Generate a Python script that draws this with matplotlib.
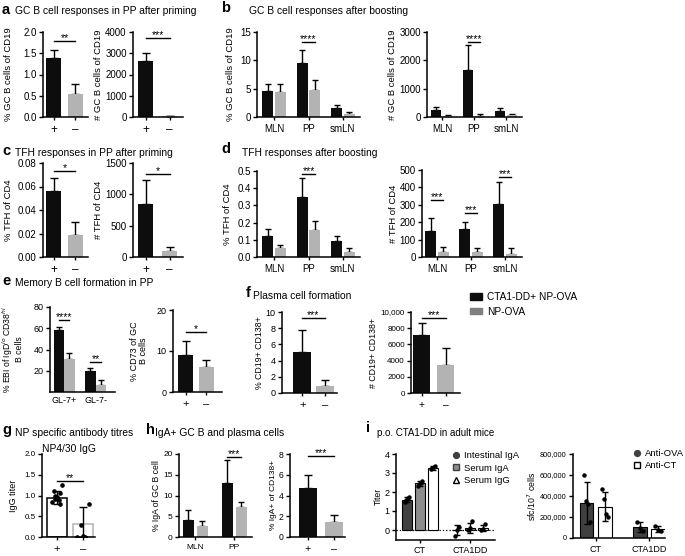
import matplotlib
matplotlib.use('Agg')
import matplotlib.pyplot as plt
from matplotlib.lines import Line2D
from matplotlib.patches import Patch
from matplotlib.ticker import FormatStrFormatter, FuncFormatter
import numpy as np

plt.rcParams['font.family'] = ['Liberation Sans', 'DejaVu Sans']

W, H = 685, 556
BLACK = '#0d0d0d'
GRAY = '#b3b3b3'
DARK = '#404040'
MID = '#8c8c8c'

# ---- data ----
pm = ['+', '–']
sites = ['MLN', 'PP', 'smLN']

a_pct = [1.38, 0.53]
a_pct_err = [0.20, 0.25]
a_num = [2650, 40]
a_num_err = [380, 30]

b_pct_dd = [4.6, 9.6, 1.6]
b_pct_dd_err = [1.2, 2.3, 0.6]
b_pct_np = [4.5, 4.8, 0.6]
b_pct_np_err = [1.3, 1.7, 0.3]
b_num_dd = [230, 1650, 200]
b_num_dd_err = [120, 900, 120]
b_num_np = [30, 30, 60]
b_num_np_err = [40, 60, 60]

c_pct = [0.056, 0.019]
c_pct_err = [0.011, 0.011]
c_num = [850, 100]
c_num_err = [380, 60]

d_pct_dd = [0.12, 0.35, 0.095]
d_pct_dd_err = [0.04, 0.11, 0.03]
d_pct_np = [0.05, 0.155, 0.03]
d_pct_np_err = [0.018, 0.055, 0.025]
d_num_dd = [150, 160, 305]
d_num_dd_err = [75, 40, 125]
d_num_np = [30, 30, 20]
d_num_np_err = [27, 20, 33]

e_groups = ['GL-7+', 'GL-7-']
e_ebi_dd = [58, 20]
e_ebi_dd_err = [3, 3]
e_ebi_np = [31, 7]
e_ebi_np_err = [6, 4]
e_cd73 = [9.0, 6.2]
e_cd73_err = [3.5, 1.6]

f_pct = [5.1, 0.9]
f_pct_err = [2.7, 0.7]
f_num = [7200, 3500]
f_num_err = [1500, 2000]

g_mean = [0.95, 0.32]
g_sd = [0.15, 0.40]
g_plus_pts = [1.25, 1.10, 1.05, 1.00, 0.97, 0.95, 0.92, 0.90, 0.85, 0.80]
g_minus_pts = [0.80, 0.30, 0.02, 0.00, 0.00]

h_gc_dd = [4.2, 13.0]
h_gc_dd_err = [2.2, 5.5]
h_gc_np = [2.6, 7.2]
h_gc_np_err = [1.3, 1.3]
h_pc = [4.7, 1.45]
h_pc_err = [1.3, 0.7]

i_groups = ['CT', 'CTA1DD']
i_int_iga = [1.6, 0.0]
i_int_iga_err = [0.15, 0.25]
i_ser_iga = [2.45, 0.1]
i_ser_iga_err = [0.15, 0.25]
i_ser_igg = [3.25, 0.1]
i_ser_igg_err = [0.10, 0.15]
i_int_iga_pts = [[1.5, 1.6, 1.7, 1.75], [-0.3, 0.0, 0.15]]
i_ser_iga_pts = [[2.3, 2.4, 2.5, 2.6], [0.0, 0.1, 0.45]]
i_ser_igg_pts = [[3.2, 3.25, 3.3, 3.35], [0.0, 0.05, 0.3]]

i_ova = [330000, 105000]
i_ova_err = [200000, 45000]
i_ct = [300000, 85000]
i_ct_err = [140000, 25000]
i_ova_pts = [[600000, 350000, 320000, 150000], [150000, 95000, 70000]]
i_ct_pts = [[470000, 370000, 230000, 200000], [110000, 80000, 65000]]

fig = plt.figure(figsize=(W / 100, H / 100), dpi=100)


def new_ax(x0, x1, ytop, ybot, fs=7):
    ax = fig.add_axes([x0 / W, 1 - ybot / H, (x1 - x0) / W, (ybot - ytop) / H])
    for s in ('top', 'right'):
        ax.spines[s].set_visible(False)
    for s in ('left', 'bottom'):
        ax.spines[s].set_linewidth(1.1)
    ax.tick_params(axis='y', direction='out', length=3, width=1, pad=1.5, labelsize=fs)
    ax.tick_params(axis='x', direction='out', length=2, width=1, pad=3, labelsize=fs)
    ax.set_facecolor('none')
    return ax


def ylab(ax, text, xr, x0, x1, fs=6.8):
    if xr is None:
        ax.set_ylabel(text, fontsize=fs, labelpad=1.5, linespacing=1.0)
    else:
        ax.set_ylabel(text, fontsize=fs, linespacing=1.0)
        ax.yaxis.set_label_coords((xr - x0) / (x1 - x0), 0.5)


def sig(ax, xa, xb, y, stars, fs=7.5):
    ax.plot([xa, xb], [y, y], color='black', lw=1, clip_on=False)
    ax.annotate(stars, ((xa + xb) / 2, y), xytext=(0, -1.5), textcoords='offset points',
                ha='center', va='bottom', fontsize=fs, annotation_clip=False)


def upbars(ax, x, v, e, cap=3):
    ax.errorbar(x, v, yerr=[np.zeros(len(v)), e], fmt='none', ecolor='black',
                elinewidth=1, capsize=cap, capthick=1, zorder=1)


def pair(box, vals, errs, width, xlim, ylim, yticks, fmt, label, xr, stars, sy,
         fs=7, lfs=6.8):
    x0, x1, yt, yb = box
    ax = new_ax(x0, x1, yt, yb, fs)
    x = np.arange(2)
    ax.bar(x, vals, width, color=[BLACK, GRAY], zorder=2)
    upbars(ax, x, vals, errs)
    ax.set_xlim(*xlim)
    ax.set_ylim(*ylim)
    ax.set_yticks(yticks)
    if fmt:
        ax.yaxis.set_major_formatter(FormatStrFormatter(fmt))
    ax.set_xticks(x)
    ax.set_xticklabels(pm, fontsize=fs + 1.5)
    ylab(ax, label, xr, x0, x1, lfs)
    sig(ax, 0, 1, sy, stars)
    return ax


def grouped(box, v1, e1, v2, e2, labels, width, off, xlim, ylim, yticks, fmt, label, xr,
            sigs, fs=7, lfs=6.8):
    x0, x1, yt, yb = box
    ax = new_ax(x0, x1, yt, yb, fs)
    x = np.arange(len(v1))
    ax.bar(x - off, v1, width, color=BLACK, zorder=2)
    ax.bar(x + off, v2, width, color=GRAY, zorder=2)
    upbars(ax, x - off, v1, e1, cap=2.5)
    upbars(ax, x + off, v2, e2, cap=2.5)
    ax.set_xlim(*xlim)
    ax.set_ylim(*ylim)
    ax.set_yticks(yticks)
    if fmt:
        ax.yaxis.set_major_formatter(FormatStrFormatter(fmt))
    ax.set_xticks(x)
    ax.set_xticklabels(labels, fontsize=fs)
    ylab(ax, label, xr, x0, x1, lfs)
    for gi, y, s in sigs:
        sig(ax, gi - off, gi + off, y, s)
    return ax


def ftext(x, y, s, **kw):
    fig.text(x / W, 1 - y / H, s, va='center', ha='left', **kw)


TFS = 7.4
LFS = 10.5
# ---- panel titles ----
ftext(2, 10, 'a', fontsize=LFS, fontweight='bold')
ftext(15, 11, 'GC B cell responses in PP after priming', fontsize=TFS)
ftext(221, 8, 'b', fontsize=LFS, fontweight='bold')
ftext(249, 11, 'GC B cell responses after boosting', fontsize=TFS)
ftext(2, 151, 'c', fontsize=LFS, fontweight='bold')
ftext(15, 153, 'TFH responses in PP after priming', fontsize=TFS)
ftext(221, 149, 'd', fontsize=LFS, fontweight='bold')
ftext(242, 153, 'TFH responses after boosting', fontsize=TFS)
ftext(2, 281, 'e', fontsize=LFS, fontweight='bold')
ftext(15, 283, 'Memory B cell formation in PP', fontsize=TFS)
ftext(246, 293, 'f', fontsize=LFS, fontweight='bold')
ftext(253, 296, 'Plasma cell formation', fontsize=TFS)
ftext(2, 430, 'g', fontsize=LFS, fontweight='bold')
ftext(15, 433, 'NP specific antibody titres', fontsize=TFS)
ftext(146, 430, 'h', fontsize=LFS, fontweight='bold')
ftext(155, 433, 'IgA+ GC B and plasma cells', fontsize=TFS)
ftext(366, 428, 'i', fontsize=LFS, fontweight='bold')
ftext(377, 433, 'p.o. CTA1-DD in adult mice', fontsize=7)

# ---- a ----
pair((43, 88, 32, 117), a_pct, a_pct_err, 0.68, (-0.48, 1.57), (0, 2.0),
     [0, 0.5, 1.0, 1.5, 2.0], '%.1f', '% GC B cells of CD19', 13, '**', 1.8)
pair((133, 183, 32, 117), a_num, a_num_err, 0.62, (-0.52, 1.56), (0, 4000),
     [0, 1000, 2000, 3000, 4000], None, '# GC B cells of CD19', None, '***', 3700)

# ---- b ----
grouped((257, 360, 32, 117), b_pct_dd, b_pct_dd_err, b_pct_np, b_pct_np_err, sites,
        0.32, 0.18, (-0.5, 2.5), (0, 15), [0, 5, 10, 15], None,
        '% GC B cells of CD19', 235, [(1, 13.3, '****')])
grouped((427, 522, 32, 117), b_num_dd, b_num_dd_err, b_num_np, b_num_np_err, sites,
        0.32, 0.18, (-0.47, 2.5), (0, 3000), [0, 1000, 2000, 3000], None,
        '# GC B cells of CD19', None, [(1, 2650, '****')])

# ---- c ----
pair((43, 88, 163, 257), c_pct, c_pct_err, 0.68, (-0.48, 1.57), (0, 0.08),
     [0, 0.02, 0.04, 0.06, 0.08], '%.2f', '% TFH of CD4', 13, '*', 0.073)
pair((133, 183, 163, 257), c_num, c_num_err, 0.62, (-0.52, 1.56), (0, 1500),
     [0, 500, 1000, 1500], None, '# TFH of CD4', None, '*', 1330)

# ---- d ----
grouped((257, 360, 171, 257), d_pct_dd, d_pct_dd_err, d_pct_np, d_pct_np_err, sites,
        0.32, 0.18, (-0.5, 2.5), (0, 0.5), [0, 0.1, 0.2, 0.3, 0.4, 0.5], '%.1f',
        '% TFH of CD4', 232, [(1, 0.48, '***')])
grouped((422, 522, 170, 257), d_num_dd, d_num_dd_err, d_num_np, d_num_np_err, sites,
        0.32, 0.18, (-0.44, 2.5), (0, 500), [0, 100, 200, 300, 400, 500], None,
        '# TFH of CD4', None, [(0, 327, '***'), (1, 254, '***'), (2, 458, '***')])

# ---- e ----
ax = grouped((50, 115, 307, 392), e_ebi_dd, e_ebi_dd_err, e_ebi_np, e_ebi_np_err, e_groups,
             0.32, 0.17, (-0.44, 1.6), (0, 80), [20, 40, 60, 80], None,
             '% EBI of IgD$^{lo}$ CD38$^{hi}$\nB cells', 24,
             [(0, 68, '****'), (1, 28, '**')], fs=6.5, lfs=6.2)
ax.tick_params(axis='x', length=0)
pair((173, 222, 310, 392), e_cd73, e_cd73_err, 0.72, (-0.61, 1.75), (0, 20),
     [0, 10, 20], None, '% CD73 of GC\nB cells', 148, '*', 14.7, fs=6.5, lfs=6.5)

# ---- f ----
pair((282, 337, 312, 393), f_pct, f_pct_err, 0.8, (-0.9, 1.55), (0, 10),
     [0, 2, 4, 6, 8, 10], None, '% CD19+ CD138+', None, '***', 9.3, fs=6.5, lfs=6.3)
ax = pair((411, 460, 312, 393), f_num, f_num_err, 0.7, (-0.44, 1.6), (0, 10000),
          [0, 2000, 4000, 6000, 8000, 10000], None, '# CD19+ CD138+', None, '***', 9300,
          fs=5.8, lfs=6.3)
ax.set_yticklabels(['0', '2000', '4000', '6000', '8000', '10,000'])

fig.legend(handles=[Patch(color=BLACK), Patch(color='#7f7f7f')],
           labels=['CTA1-DD+ NP-OVA', 'NP-OVA'], loc='upper left',
           bbox_to_anchor=(470 / W, 1 - 292 / H), frameon=False, fontsize=7.3,
           handlelength=1.2, handleheight=0.6, handletextpad=0.5, labelspacing=0.45,
           borderaxespad=0, borderpad=0)

# ---- g ----
x0, x1, yt, yb = 42, 95, 454, 537
ax = new_ax(x0, x1, yt, yb, fs=5.8)
x = np.arange(2)
ax.bar(x, g_mean, 0.75, facecolor='white', edgecolor=['black', GRAY], lw=1.1, zorder=2)
for xi, pts in zip(x, [g_plus_pts, g_minus_pts]):
    jit = np.linspace(-0.22, 0.22, len(pts))[::-1] * np.resize([1, -0.6], len(pts))
    ax.plot(xi + jit, pts, 'o', color='black', ms=2.3, zorder=3)
ax.errorbar(x, g_mean, yerr=[[g_sd[0], 0.32], g_sd], fmt='none', ecolor='black',
            elinewidth=1, capsize=3, capthick=1, zorder=4)
ax.set_xlim(-0.55, 1.45)
ax.set_ylim(0, 2.0)
ax.set_yticks([0, 0.5, 1.0, 1.5, 2.0])
ax.yaxis.set_major_formatter(FormatStrFormatter('%.1f'))
ax.set_xticks(x)
ax.set_xticklabels(pm, fontsize=8)
ylab(ax, 'IgG titer', 18, x0, x1, fs=6.5)
sig(ax, 0, 1, 1.35, '**')
ax.set_title('NP4/30 IgG', fontsize=7.4, pad=1)

# ---- h ----
grouped((179, 252, 454, 537), h_gc_dd, h_gc_dd_err, h_gc_np, h_gc_np_err, ['MLN', 'PP'],
        0.3, 0.18, (-0.42, 1.45), (0, 20), [0, 5, 10, 15, 20], None,
        '% IgA of GC B cell', None, [(1, 19.2, '***')], fs=6, lfs=6.2)
pair((290, 345, 454, 537), h_pc, h_pc_err, 0.68, (-0.68, 1.4), (0, 8),
     [0, 2, 4, 6, 8], None, '% IgA+ of CD138+', None, '***', 7.8, fs=6.2, lfs=6)

# ---- i (titers) ----
x0, x1, yt, yb = 396, 495, 454, 539.5
ax = new_ax(x0, x1, yt, yb, fs=6.5)
x = np.arange(2)
sets = [(i_int_iga, i_int_iga_err, i_int_iga_pts, DARK),
        (i_ser_iga, i_ser_iga_err, i_ser_iga_pts, MID),
        (i_ser_igg, i_ser_igg_err, i_ser_igg_pts, 'white')]
for k, (v, e, pts, col) in enumerate(sets):
    xs = x + (k - 1) * 0.26
    ax.bar(xs, v, 0.2, color=col, edgecolor='black', lw=0.8, zorder=2)
    for xi, p in zip(xs, pts):
        ax.plot(xi + np.linspace(-0.04, 0.04, len(p)), p, 'o', color='black', ms=2.2, zorder=3)
    ax.errorbar(xs, v, yerr=e, fmt='none', ecolor='black', elinewidth=1, capsize=2,
                capthick=1, zorder=4)
ax.axhline(0, ls=':', color='black', lw=0.9, zorder=1)
ax.set_xlim(-0.48, 1.5)
ax.set_ylim(-0.5, 4)
ax.set_yticks([0, 1, 2, 3, 4])
ax.set_xticks(x)
ax.set_xticklabels(i_groups, fontsize=6.5)
ylab(ax, 'Titer', None, x0, x1, fs=6.3)
ax.legend(handles=[Line2D([], [], ls='none', marker='o', color=DARK, ms=4.2),
                   Line2D([], [], ls='none', marker='s', mfc=MID, mec=DARK, ms=4.2),
                   Line2D([], [], ls='none', marker='^', mfc='white', mec='black', ms=4.2)],
          labels=['Intestinal IgA', 'Serum IgA', 'Serum IgG'], loc='upper left',
          bbox_to_anchor=((452 - x0) / (x1 - x0), 1.03), frameon=False, fontsize=6.8,
          handlelength=0.8, handletextpad=0.5, labelspacing=0.35, borderaxespad=0,
          borderpad=0)

# ---- i (sfc) ----
x0, x1, yt, yb = 573, 665, 454, 538
ax = new_ax(x0, x1, yt, yb, fs=5.3)
for k, (v, e, pts, col) in enumerate([(i_ova, i_ova_err, i_ova_pts, DARK),
                                      (i_ct, i_ct_err, i_ct_pts, 'white')]):
    xs = x + (k - 0.5) * 0.34
    ax.bar(xs, v, 0.25, color=col, edgecolor='black', lw=0.8, zorder=2)
    for xi, p in zip(xs, pts):
        ax.plot(xi + np.linspace(-0.06, 0.06, len(p)), p, 'o', color='black', ms=2.2, zorder=3)
    ax.errorbar(xs, v, yerr=e, fmt='none', ecolor='black', elinewidth=1, capsize=2,
                capthick=1, zorder=4)
ax.set_xlim(-0.43, 1.3)
ax.set_ylim(0, 800000)
ax.set_yticks([0, 200000, 400000, 600000, 800000])
ax.yaxis.set_major_formatter(FuncFormatter(lambda v, p: f'{int(v):,}'))
ax.set_xticks(x)
ax.set_xticklabels(i_groups, fontsize=6.5)
ylab(ax, 'sfc/10$^7$ cells', None, x0, x1, fs=6.3)
ax.legend(handles=[Line2D([], [], ls='none', marker='o', color=DARK, ms=4.2),
                   Line2D([], [], ls='none', marker='s', mfc='white', mec='black', ms=4.2)],
          labels=['Anti-OVA', 'Anti-CT'], loc='upper left',
          bbox_to_anchor=((633 - x0) / (x1 - x0), 1.06), frameon=False, fontsize=6.8,
          handlelength=0.8, handletextpad=0.5, labelspacing=0.35, borderaxespad=0,
          borderpad=0)

fig.savefig('out.png', dpi=100)
